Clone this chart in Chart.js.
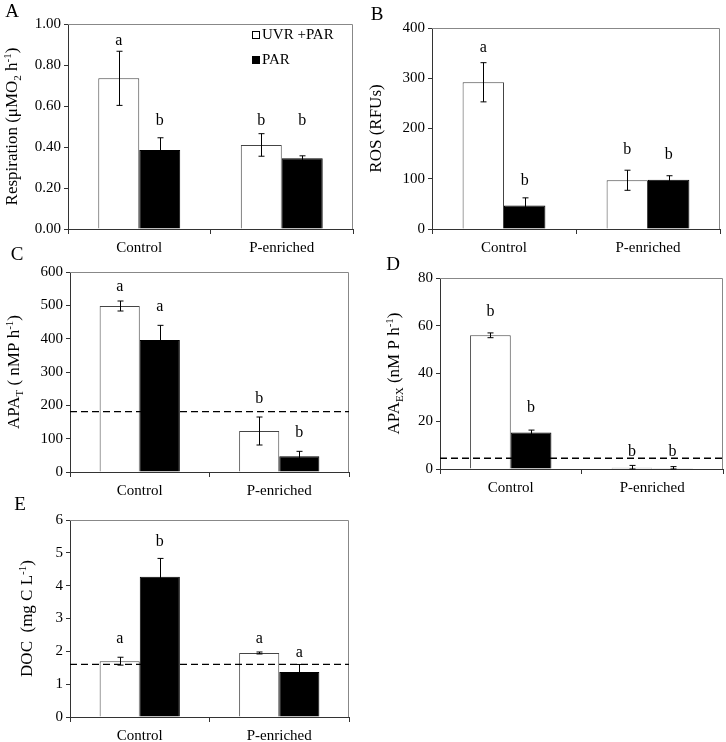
<!DOCTYPE html>
<html>
<head>
<meta charset="utf-8">
<script src="https://cdn.jsdelivr.net/npm/chart.js@4.4.0/dist/chart.umd.min.js"></script>
<style>
  body { margin: 0; background: #fff; }
  #wrap { position: relative; width: 726px; height: 742px; }
  canvas { position: absolute; }
</style>
</head>
<body>
<div id="wrap">
  <canvas id="chartA" width="363" height="260" style="left:0;top:0"></canvas>
  <canvas id="chartB" width="363" height="260" style="left:363px;top:0"></canvas>
  <canvas id="chartC" width="363" height="260" style="left:0;top:240px"></canvas>
  <canvas id="chartD" width="363" height="260" style="left:363px;top:240px"></canvas>
  <canvas id="chartE" width="363" height="262" style="left:0;top:480px"></canvas>
</div>
<script>
const categories = ['Control', 'P-enriched'];
const seriesNames = ['UVR +PAR', 'PAR'];

// A - respiration
const respUvr = [0.735, 0.41];
const respUvrErr = [0.132, 0.055];
const respPar = [0.385, 0.345];
const respParErr = [0.06, 0.012];
const respUvrSig = ['a', 'b'];
const respUvrSigAt = [0.92, 0.53];
const respParSig = ['b', 'b'];
const respParSigAt = [0.53, 0.53];

// B - ROS
const rosUvr = [292, 97];
const rosUvrErr = [39, 20];
const rosPar = [47, 98];
const rosParErr = [15, 8];
const rosUvrSig = ['a', 'b'];
const rosUvrSigAt = [360, 157];
const rosParSig = ['b', 'b'];
const rosParSigAt = [95, 147];

// C - APA total
const apaTUvr = [498, 123];
const apaTUvrErr = [15, 42];
const apaTPar = [396, 47];
const apaTParErr = [44, 15];
const apaTUvrSig = ['a', 'b'];
const apaTUvrSigAt = [556, 219];
const apaTParSig = ['a', 'b'];
const apaTParSigAt = [496, 118];
const apaTLine = 181;

// D - APA extracellular
const apaExUvr = [56, 0.5];
const apaExUvrErr = [1, 1];
const apaExPar = [15.3, 0.1];
const apaExParErr = [1, 0.9];
const apaExUvrSig = ['b', 'b'];
const apaExUvrSigAt = [66, 7.2];
const apaExParSig = ['b', 'b'];
const apaExParSigAt = [25.7, 7.2];
const apaExLine = 4.5;

// E - DOC
const docUvr = [1.7, 1.95];
const docUvrErr = [0.12, 0.03];
const docPar = [4.27, 1.37];
const docParErr = [0.56, 0.23];
const docUvrSig = ['a', 'a'];
const docUvrSigAt = [2.37, 2.37];
const docParSig = ['b', 'a'];
const docParSigAt = [5.33, 1.95];
const docLine = 1.6;

const SERIF = "'Liberation Serif', 'DejaVu Serif', serif";

// error bars, significance letters, dashed reference line, frame, titles
const panelPlugin = {
  id: 'panelPlugin',
  afterDatasetsDraw(chart) {
    const ctx = chart.ctx;
    const area = chart.chartArea;
    const y = chart.scales.y;
    const p = chart.options.plugins.panelPlugin;

    // frame on top and right
    ctx.save();
    ctx.strokeStyle = '#888';
    ctx.lineWidth = 1;
    ctx.beginPath();
    ctx.moveTo(area.left, area.top + 0.5);
    ctx.lineTo(area.right - 0.5, area.top + 0.5);
    ctx.lineTo(area.right - 0.5, area.bottom);
    ctx.stroke();
    ctx.restore();

    // dashed line
    if (p.line != null) {
      const ly = y.getPixelForValue(p.line);
      ctx.save();
      ctx.strokeStyle = '#000';
      ctx.lineWidth = 1.3;
      ctx.setLineDash([7, 4]);
      ctx.beginPath();
      ctx.moveTo(area.left, ly);
      ctx.lineTo(area.right, ly);
      ctx.stroke();
      ctx.restore();
    }

    chart.data.datasets.forEach((ds, i) => {
      const meta = chart.getDatasetMeta(i);
      meta.data.forEach((bar, j) => {
        const v = ds.data[j];
        const e = ds.err[j];
        const yHi = y.getPixelForValue(v + e);
        const yLo = y.getPixelForValue(Math.max(0, v - e));
        const x = Math.round(bar.x) + 0.5;
        ctx.save();
        ctx.strokeStyle = '#000';
        ctx.lineWidth = 1;
        ctx.beginPath();
        ctx.moveTo(x, yHi);
        ctx.lineTo(x, yLo);
        ctx.moveTo(x - 3, yHi);
        ctx.lineTo(x + 3, yHi);
        ctx.moveTo(x - 3, yLo);
        ctx.lineTo(x + 3, yLo);
        ctx.stroke();

        ctx.fillStyle = '#000';
        ctx.font = '16px ' + SERIF;
        ctx.textAlign = 'center';
        ctx.textBaseline = 'middle';
        ctx.fillText(ds.sig[j], bar.x, y.getPixelForValue(ds.sigAt[j]));
        ctx.restore();
      });
    });
  },
  afterDraw(chart) {
    const ctx = chart.ctx;
    const area = chart.chartArea;
    const p = chart.options.plugins.panelPlugin;

    // panel letter
    ctx.save();
    ctx.fillStyle = '#000';
    ctx.font = '19px ' + SERIF;
    ctx.textAlign = 'center';
    ctx.textBaseline = 'middle';
    ctx.fillText(p.letter, p.letterX, p.letterY);
    ctx.restore();

    // rotated axis title with sub/superscripts
    ctx.save();
    ctx.translate(p.titleX, (area.top + area.bottom) / 2);
    ctx.rotate(-Math.PI / 2);
    ctx.fillStyle = '#000';
    ctx.textBaseline = 'middle';
    ctx.textAlign = 'left';
    const big = '17px ' + SERIF;
    const small = '11px ' + SERIF;
    let total = 0;
    p.title.forEach(seg => {
      ctx.font = seg.s ? small : big;
      total += ctx.measureText(seg.t).width;
    });
    let cx = -total / 2;
    p.title.forEach(seg => {
      ctx.font = seg.s ? small : big;
      const dy = seg.s === 'sub' ? 5 : (seg.s === 'sup' ? -5 : 0);
      ctx.fillText(seg.t, cx, dy);
      cx += ctx.measureText(seg.t).width;
    });
    ctx.restore();

    // legend inside plot
    if (p.legend) {
      ctx.save();
      ctx.font = '15px ' + SERIF;
      ctx.textBaseline = 'middle';
      ctx.textAlign = 'left';
      chart.data.datasets.forEach((ds, i) => {
        const ly = p.legendY + i * 25;
        ctx.fillStyle = ds.backgroundColor;
        ctx.fillRect(p.legendX, ly - 4, 8, 8);
        ctx.strokeStyle = '#000';
        ctx.lineWidth = 1;
        ctx.strokeRect(p.legendX + 0.5, ly - 3.5, 7, 7);
        ctx.fillStyle = '#000';
        ctx.fillText(ds.label, p.legendX + 10, ly);
      });
      ctx.restore();
    }
  }
};

function makePanel(id, cfg) {
  const canvas = document.getElementById(id);
  const H = canvas.height;
  const W = canvas.width;
  return new Chart(canvas.getContext('2d'), {
    type: 'bar',
    data: {
      labels: categories,
      datasets: [
        {
          label: seriesNames[0],
          data: cfg.uvr,
          err: cfg.uvrErr,
          sig: cfg.uvrSig,
          sigAt: cfg.uvrSigAt,
          backgroundColor: '#ffffff',
          borderColor: '#444',
          borderWidth: 1,
          categoryPercentage: 0.575,
          barPercentage: 1
        },
        {
          label: seriesNames[1],
          data: cfg.par,
          err: cfg.parErr,
          sig: cfg.parSig,
          sigAt: cfg.parSigAt,
          backgroundColor: '#000000',
          borderColor: '#000',
          borderWidth: 1,
          categoryPercentage: 0.575,
          barPercentage: 1
        }
      ]
    },
    options: {
      responsive: false,
      animation: false,
      layout: {
        padding: { top: cfg.area[2], right: W - cfg.area[1], left: 0, bottom: 0 }
      },
      plugins: {
        legend: { display: false },
        tooltip: { enabled: false },
        panelPlugin: {
          letter: cfg.letter, letterX: cfg.letterPos[0], letterY: cfg.letterPos[1],
          title: cfg.title, titleX: cfg.titleX,
          line: cfg.line,
          legend: cfg.legend, legendX: 252, legendY: 35
        }
      },
      scales: {
        x: {
          grid: { drawOnChartArea: false, tickLength: 5, color: '#333', offset: true },
          border: { color: '#333', width: 1 },
          ticks: { color: '#000', font: { family: SERIF, size: 15 }, padding: 5 },
          afterFit(scale) { scale.height = H - cfg.area[3]; }
        },
        y: {
          min: 0,
          max: cfg.max,
          grid: { drawOnChartArea: false, tickLength: 4, color: '#333' },
          border: { color: '#333', width: 1 },
          ticks: {
            stepSize: cfg.step,
            color: '#000',
            font: { family: SERIF, size: 15 },
            padding: 3,
            callback: v => cfg.fmt ? v.toFixed(cfg.fmt) : v
          },
          afterFit(scale) { scale.width = cfg.area[0]; }
        }
      }
    },
    plugins: [panelPlugin]
  });
}

makePanel('chartA', {
  uvr: respUvr, uvrErr: respUvrErr, uvrSig: respUvrSig, uvrSigAt: respUvrSigAt,
  par: respPar, parErr: respParErr, parSig: respParSig, parSigAt: respParSigAt,
  max: 1, step: 0.2, fmt: 2,
  area: [68, 353, 24, 229],
  letter: 'A', letterPos: [12, 12],
  titleX: 13,
  title: [{ t: 'Respiration (\u03BCMO' }, { t: '2', s: 'sub' }, { t: ' h' }, { t: '-1', s: 'sup' }, { t: ')' }],
  legend: true
});

makePanel('chartB', {
  uvr: rosUvr, uvrErr: rosUvrErr, uvrSig: rosUvrSig, uvrSigAt: rosUvrSigAt,
  par: rosPar, parErr: rosParErr, parSig: rosParSig, parSigAt: rosParSigAt,
  max: 400, step: 100,
  area: [69, 357, 28, 229],
  letter: 'B', letterPos: [14, 15],
  titleX: 14,
  title: [{ t: 'ROS (RFUs)' }]
});

makePanel('chartC', {
  uvr: apaTUvr, uvrErr: apaTUvrErr, uvrSig: apaTUvrSig, uvrSigAt: apaTUvrSigAt,
  par: apaTPar, parErr: apaTParErr, parSig: apaTParSig, parSigAt: apaTParSigAt,
  max: 600, step: 100, line: apaTLine,
  area: [70, 349, 32, 232],
  letter: 'C', letterPos: [17, 15],
  titleX: 15,
  title: [{ t: 'APA' }, { t: 'T', s: 'sub' }, { t: ' ( nMP h' }, { t: '-1', s: 'sup' }, { t: ')' }]
});

makePanel('chartD', {
  uvr: apaExUvr, uvrErr: apaExUvrErr, uvrSig: apaExUvrSig, uvrSigAt: apaExUvrSigAt,
  par: apaExPar, parErr: apaExParErr, parSig: apaExParSig, parSigAt: apaExParSigAt,
  max: 80, step: 20, line: apaExLine,
  area: [77, 360, 38, 229],
  letter: 'D', letterPos: [30, 25],
  titleX: 32,
  title: [{ t: 'APA' }, { t: 'EX', s: 'sub' }, { t: ' (nM P h' }, { t: '-1', s: 'sup' }, { t: ')' }]
});

makePanel('chartE', {
  uvr: docUvr, uvrErr: docUvrErr, uvrSig: docUvrSig, uvrSigAt: docUvrSigAt,
  par: docPar, parErr: docParErr, parSig: docParSig, parSigAt: docParSigAt,
  max: 6, step: 1, line: docLine,
  area: [70, 349, 40, 237],
  letter: 'E', letterPos: [20, 25],
  titleX: 28,
  title: [{ t: 'DOC  (mg C L' }, { t: '-1', s: 'sup' }, { t: ')' }]
});
</script>
</body>
</html>
